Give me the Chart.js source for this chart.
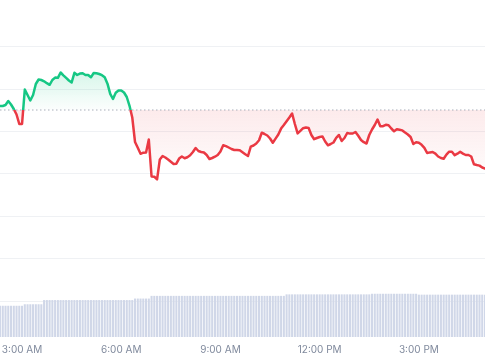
<!DOCTYPE html>
<html>
<head>
<meta charset="utf-8">
<script src="https://cdn.jsdelivr.net/npm/chart.js@4.4.1/dist/chart.umd.min.js"></script>
<style>
  html, body { margin: 0; padding: 0; background: #ffffff; }
  #wrap { width: 485px; height: 360px; position: relative; }
</style>
</head>
<body>
<div id="wrap"><canvas id="price-chart"></canvas></div>
<script>
// 5 minute points, first one at 2:20 AM (minutes after midnight)
const start_minute = 140;
const step_minutes = 5;

const price = [
  3231, 3231, 3232, 3236, 3232.5, 3228, 3222.5, 3213, 3213, 3247.5,
  3242, 3236.5, 3242, 3253, 3257.5, 3257, 3255.7, 3253.8, 3252.2, 3257,
  3259.4, 3259.2, 3264.5, 3261.7, 3259.1, 3256.5, 3254.5, 3264.2, 3262, 3263.4,
  3263.7, 3262, 3262, 3259.7, 3264, 3263.8, 3263, 3261.8, 3259.7, 3253.3,
  3243.2, 3238, 3244.2, 3246.5, 3246.5, 3244.5, 3240, 3231.2, 3219.5, 3195,
  3189.2, 3183.2, 3184.3, 3184.5, 3197.5, 3160.5, 3160.2, 3157.7, 3177.5, 3181,
  3179.5, 3177.5, 3175.2, 3173, 3173.3, 3178.4, 3180.5, 3178.8, 3179.8, 3181.7,
  3185, 3189, 3186, 3185, 3184.5, 3182, 3178, 3179, 3180.3, 3182,
  3185.5, 3191.8, 3190.9, 3189.5, 3188, 3187, 3187, 3186.7, 3184.8, 3182.8,
  3181, 3190.3, 3191.5, 3193.5, 3196.7, 3204.3, 3203, 3201.5, 3198.5, 3194.3,
  3198.4, 3202.5, 3208.4, 3212, 3215.8, 3219.5, 3223.5, 3213, 3203.6, 3206.2,
  3208.8, 3209.5, 3209, 3202, 3197.8, 3199, 3200, 3200.6, 3195.5, 3191.7,
  3193, 3194.5, 3199.2, 3202, 3196, 3199, 3204, 3203.4, 3203.5, 3205,
  3201.2, 3197, 3194.8, 3193.5, 3202, 3207.5, 3212, 3217.5, 3210.7, 3210.8,
  3212.2, 3211.7, 3208.5, 3205.7, 3207.7, 3207.2, 3206.6, 3204.5, 3202.5, 3200,
  3193, 3194.7, 3194.2, 3192.2, 3189.2, 3184, 3184.6, 3185, 3183.4, 3180.5,
  3179, 3178.2, 3182.4, 3185.3, 3185.3, 3181.8, 3183.3, 3185.2, 3183.4, 3182,
  3182, 3180.5, 3172.7, 3172, 3171.4, 3169.5, 3168.5
];

// rolling 24h volume, billions
const volume = [
  10.3, 10.3, 10.3, 10.3, 10.3, 10.3, 10.3, 10.3, 10.3,
  10.8, 10.8, 10.8, 10.8, 10.8, 10.8, 10.8,
  12.2, 12.2, 12.2, 12.2, 12.2, 12.2, 12.2, 12.2, 12.2, 12.2, 12.2,
  12.2, 12.2, 12.2, 12.2, 12.2, 12.2, 12.2, 12.2, 12.2, 12.2, 12.2,
  12.2, 12.2, 12.2, 12.2, 12.2, 12.2, 12.2, 12.2, 12.2, 12.2, 12.2,
  12.7, 12.7, 12.7, 12.7, 12.7, 12.7,
  13.6, 13.6, 13.6, 13.6, 13.6, 13.6, 13.6, 13.6, 13.6, 13.6,
  13.6, 13.6, 13.6, 13.6, 13.6, 13.6, 13.6, 13.6, 13.6, 13.6,
  13.6, 13.6, 13.6, 13.6, 13.6, 13.6, 13.6, 13.6, 13.6, 13.6,
  13.6, 13.6, 13.6, 13.6, 13.6, 13.6, 13.6, 13.6, 13.6, 13.6,
  13.6, 13.6, 13.6, 13.6, 13.6, 13.6, 13.6, 13.6, 13.6,
  14.1, 14.1, 14.1, 14.1, 14.1, 14.1, 14.1, 14.1, 14.1, 14.1,
  14.1, 14.1, 14.1, 14.1, 14.1, 14.1, 14.1, 14.1, 14.1, 14.1,
  14.1, 14.1, 14.1, 14.1, 14.1, 14.1, 14.1, 14.1, 14.1, 14.1, 14.1,
  14.3, 14.3, 14.3, 14.3, 14.3, 14.3, 14.3, 14.3, 14.3,
  14.3, 14.3, 14.3, 14.3, 14.3, 14.3, 14.3, 14.3,
  14.0, 14.0, 14.0, 14.0, 14.0, 14.0, 14.0, 14.0, 14.0, 14.0,
  14.0, 14.0, 14.0, 14.0, 14.0, 14.0, 14.0, 14.0, 14.0, 14.0,
  14.0, 14.0, 14.0, 14.0, 14.0
];

const open_price = 3227; // price 24h ago -> dotted reference line
const grid_prices = [3036, 3078.4, 3120.8, 3163.2, 3205.6, 3248, 3290.4];
const tick_minutes = [180, 360, 540, 720, 900];
const tick_labels = ["3:00 AM", "6:00 AM", "9:00 AM", "12:00 PM", "3:00 PM"];

const green = "#16c784";
const red = "#ea3943";

const minutes = price.map((_, i) => start_minute + i * step_minutes);

// line colour flips at the open price
function lineGradient(chart) {
  const { ctx, chartArea, scales } = chart;
  if (!chartArea) return green;
  const h = chartArea.bottom - chartArea.top;
  const f = (scales.y.getPixelForValue(open_price) - chartArea.top) / h;
  const g = ctx.createLinearGradient(0, chartArea.top, 0, chartArea.bottom);
  g.addColorStop(0, green);
  g.addColorStop(f, green);
  g.addColorStop(f, red);
  g.addColorStop(1, red);
  return g;
}

// fill fades towards the open price (green) and away from it (red)
function fillGradient(chart) {
  const { ctx, chartArea, scales } = chart;
  if (!chartArea) return "rgba(0,0,0,0)";
  const h = chartArea.bottom - chartArea.top;
  const frac = v => (scales.y.getPixelForValue(v) - chartArea.top) / h;
  const f_top = frac(Math.max(...price));
  const f_base = frac(open_price);
  const f_low = frac(Math.min(...price));
  const g = ctx.createLinearGradient(0, chartArea.top, 0, chartArea.bottom);
  g.addColorStop(0, "rgba(22,199,132,0.22)");
  g.addColorStop(f_top, "rgba(22,199,132,0.17)");
  g.addColorStop(f_base, "rgba(22,199,132,0.01)");
  g.addColorStop(f_base, "rgba(234,57,67,0.10)");
  g.addColorStop(f_low, "rgba(234,57,67,0.01)");
  g.addColorStop(1, "rgba(234,57,67,0)");
  return g;
}

const x_min = start_minute;
const x_max = start_minute + (price.length - 1) * step_minutes;

new Chart(document.getElementById("price-chart"), {
  type: "line",
  data: {
    datasets: [
      {
        label: "Open",
        data: [{ x: x_min, y: open_price }, { x: x_max, y: open_price }],
        borderColor: "#a9afba",
        borderWidth: 1,
        borderDash: [1.5, 2.5],
        pointRadius: 0,
        fill: false,
        order: 0
      },
      {
        label: "Price",
        data: price.map((p, i) => ({ x: minutes[i], y: p })),
        borderColor: ctx => lineGradient(ctx.chart),
        backgroundColor: ctx => fillGradient(ctx.chart),
        borderWidth: 2.5,
        borderJoinStyle: "round",
        borderCapStyle: "round",
        pointRadius: 0,
        tension: 0,
        fill: { target: { value: open_price } },
        order: 1
      },
      {
        type: "bar",
        label: "Volume",
        data: volume.map((v, i) => ({ x: minutes[i], y: v })),
        yAxisID: "y2",
        backgroundColor: "#d0d7e8",
        barThickness: 1.4,
        order: 3
      }
    ]
  },
  options: {
    responsive: true,
    maintainAspectRatio: false,
    animation: false,
    layout: { padding: { left: 0, right: 0, top: 0, bottom: 4 } },
    plugins: {
      legend: { display: false },
      tooltip: { enabled: false }
    },
    scales: {
      x: {
        type: "linear",
        min: x_min,
        max: x_max,
        offset: false,
        grid: { display: false, drawTicks: false },
        border: { display: false },
        afterBuildTicks: scale => {
          scale.ticks = tick_minutes.map(v => ({ value: v }));
        },
        // keep the plot edge to edge, labels sit inside anyway
        afterFit: scale => {
          scale.paddingLeft = 0;
          scale.paddingRight = 0;
          scale.height = 19;
        },
        ticks: {
          maxRotation: 0,
          padding: 7,
          color: "#808a9d",
          font: { family: "Inter", size: 10 },
          callback: (value, index) => tick_labels[index]
        }
      },
      y: {
        type: "linear",
        min: 3000,
        max: 3337,
        position: "left",
        afterBuildTicks: scale => {
          scale.ticks = grid_prices.map(v => ({ value: v }));
        },
        afterFit: scale => {
          scale.width = 0;
        },
        grid: { color: "#eff1f4", lineWidth: 1, drawTicks: false },
        border: { display: false },
        ticks: { display: false }
      },
      y2: {
        type: "linear",
        min: 0,
        max: 112.3,
        display: false
      }
    }
  }
});
</script>
</body>
</html>
